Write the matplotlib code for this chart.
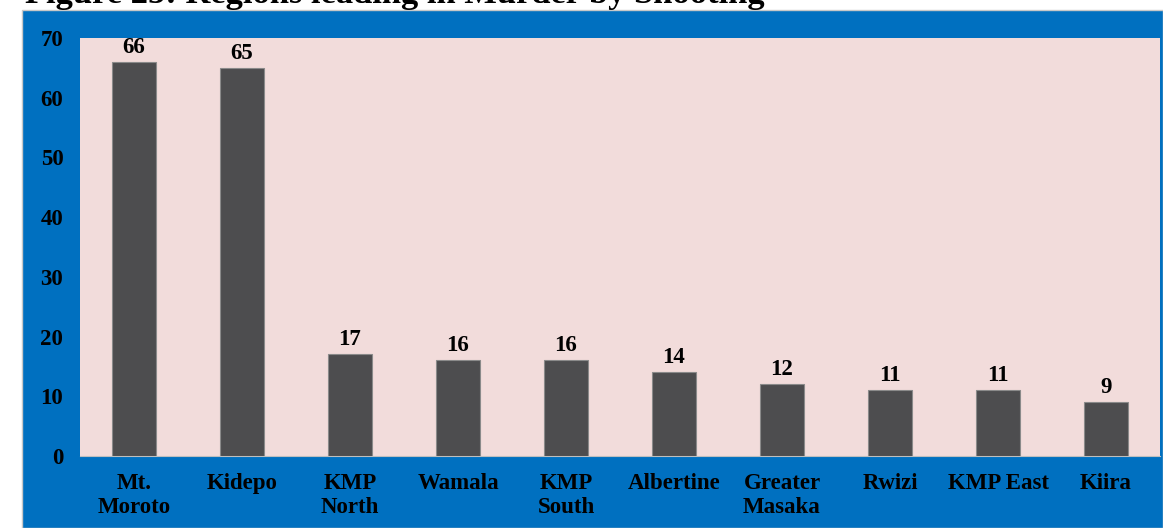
import matplotlib
matplotlib.use("Agg")
import matplotlib.pyplot as plt
from matplotlib.patches import Rectangle

regions = ["Mt.\nMoroto", "Kidepo", "KMP\nNorth", "Wamala", "KMP\nSouth",
           "Albertine", "Greater\nMasaka", "Rwizi", "KMP East", "Kiira"]
counts = [66, 65, 17, 16, 16, 14, 12, 11, 11, 9]
title = "Figure 25: Regions leading in Murder by Shooting"
yticks = list(range(0, 71, 10))

W, H = 1163, 528
plt.rcParams['font.family'] = ['Liberation Serif', 'DejaVu Serif']
plt.rcParams['font.weight'] = 'bold'

fig = plt.figure(figsize=(W / 100, H / 100), dpi=100)
fig.patch.set_facecolor('white')

# blue frame behind the chart
fig.patches.append(Rectangle((22 / W, 0), 1 - 22 / W, (H - 10) / H,
                             transform=fig.transFigure, facecolor='#0070C0',
                             edgecolor='#C8C8C8', linewidth=1, zorder=-5))

# title is cut off at the top of the image
fig.text(25 / W, 1 - 3 / H, title, fontsize=24.8, fontweight='bold',
         ha='left', va='baseline', color='black')

ax = fig.add_axes([80 / W, (H - 456) / H, 1080 / W, 418 / H])
ax.set_facecolor('#F2DCDB')
x = range(len(counts))
bars = ax.bar(x, counts, width=0.41, color='#4D4D4F', edgecolor='#8A8A8A',
              linewidth=0.8, zorder=3)

for b, v in zip(bars, counts):
    ax.annotate(str(v), (b.get_x() + b.get_width() / 2, v),
                xytext=(0, 3), textcoords='offset points', ha='center',
                va='bottom', fontsize=16.5, fontweight='bold', color='black')

ax.set_xlim(-0.5, len(counts) - 0.5)
ax.set_ylim(0, 70)
ax.set_yticks(yticks)
ax.set_yticklabels([str(t) for t in yticks], fontsize=16.5, fontweight='bold')
ax.set_xticks(list(x))
ax.set_xticklabels(regions, fontsize=16.5, fontweight='bold', linespacing=1.22)
ax.tick_params(axis='y', length=0, pad=12)
ax.tick_params(axis='x', length=0, pad=12)
for s in ax.spines.values():
    s.set_visible(False)
ax.spines['bottom'].set_visible(True)
ax.spines['bottom'].set_color('#BFBFBF')

fig.savefig("out.png", dpi=100)
